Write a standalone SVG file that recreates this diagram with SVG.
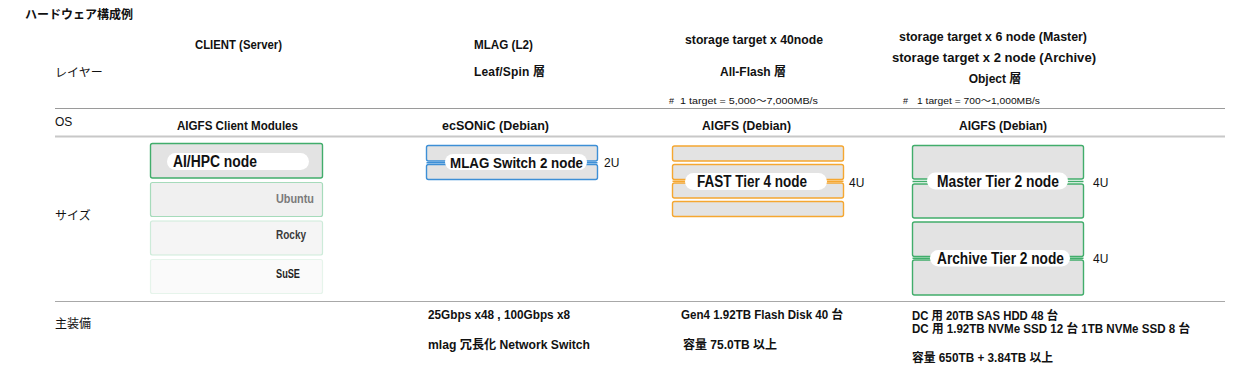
<svg xmlns="http://www.w3.org/2000/svg" width="1250" height="370" viewBox="0 0 1250 370">
<style>
text{font-family:"Liberation Sans","Noto Sans CJK JP",sans-serif;fill:#111}
.jp{font-family:"Noto Sans CJK JP",sans-serif}
.h{font-size:12px;font-weight:bold}
.lab{font-size:12px;font-family:"Noto Sans CJK JP",sans-serif}
.sm{font-size:9px}
.nl{font-size:16px;font-weight:bold}
.os{font-size:12px;font-weight:bold}
.u{font-size:12px}
.box{fill:#e3e3e3;stroke-width:1.4}
.g{stroke:#41ad6b}
.b{stroke:#3d8fd6}
.o{stroke:#f5a731}
.pill{fill:#fff}
.lnk{stroke-width:1.4}
</style>
<text class="jp" x="25" y="18.5" font-size="12" font-weight="bold" textLength="108" lengthAdjust="spacingAndGlyphs">ハードウェア構成例</text>
<g id="row-labels">
<text class="lab" x="55" y="76.5">レイヤー</text>
<text class="u" x="55" y="125.5">OS</text>
<text class="lab" x="55" y="219.5">サイズ</text>
<text class="lab" x="55" y="327.5">主装備</text>
</g>
<g id="rules">
<line x1="55" y1="108.5" x2="1225" y2="108.5" stroke="#9a9a9a" stroke-width="1"/>
<line x1="55" y1="136.5" x2="1225" y2="136.5" stroke="#c8c8c8" stroke-width="2"/>
<line x1="55" y1="301.5" x2="1225" y2="301.5" stroke="#a8a8a8" stroke-width="1"/>
</g>
<g id="col-client">
<text class="h" x="195" y="49" textLength="87" lengthAdjust="spacingAndGlyphs">CLIENT (Server)</text>
<text class="h" x="177" y="130" textLength="121" lengthAdjust="spacingAndGlyphs">AIGFS Client Modules</text>
</g>
<g id="node-aihpc">
<rect class="box g" x="150.5" y="143.5" width="172" height="34.5" rx="2" stroke-width="1.5"/>
<rect class="pill" x="167" y="153" width="142" height="17" rx="8.5"/>
<text class="nl" x="173" y="167" textLength="84" lengthAdjust="spacingAndGlyphs">AI/HPC node</text>
</g>
<g id="node-ubuntu">
<rect x="150.5" y="182.5" width="172" height="34" rx="2" fill="#f0f0f0" stroke="#a6dbbb" stroke-width="1.2"/>
<text class="os" x="276" y="202.5" style="fill:#7a7a7a" textLength="38" lengthAdjust="spacingAndGlyphs">Ubuntu</text>
</g>
<g id="node-rocky">
<rect x="150.5" y="221" width="172" height="34" rx="2" fill="#f5f5f5" stroke="#cdebd9" stroke-width="1.2"/>
<text class="os" x="276" y="239" style="fill:#3a3a3a" textLength="30" lengthAdjust="spacingAndGlyphs">Rocky</text>
</g>
<g id="node-suse">
<rect x="150.5" y="259.5" width="172" height="34" rx="2" fill="#fafafa" stroke="#e6f4eb" stroke-width="1.2"/>
<text class="os" x="276" y="277.5" style="fill:#222" textLength="24" lengthAdjust="spacingAndGlyphs">SuSE</text>
</g>
<g id="col-mlag">
<text class="h" x="474" y="49" textLength="59" lengthAdjust="spacingAndGlyphs">MLAG (L2)</text>
<text class="h" x="474" y="76" textLength="71" lengthAdjust="spacing">Leaf/Spin 層</text>
<text class="h" x="442" y="129.5" textLength="107" lengthAdjust="spacingAndGlyphs">ecSONiC (Debian)</text>
<text class="h" x="428" y="319" textLength="142" lengthAdjust="spacingAndGlyphs">25Gbps x48 , 100Gbps x8</text>
<text class="h" x="428" y="349" textLength="162" lengthAdjust="spacingAndGlyphs">mlag 冗長化 Network Switch</text>
</g>
<g id="node-mlag-switch">
<rect class="box b" x="426.5" y="145.5" width="171" height="15.5" rx="2"/>
<rect class="box b" x="426.5" y="164.5" width="171" height="15" rx="2"/>
<line class="lnk b" x1="426.5" y1="162.7" x2="597.5" y2="162.7"/>
<rect class="pill" x="445" y="154" width="142" height="16" rx="8"/>
<text x="450" y="167.5" font-size="14.5" font-weight="bold" textLength="133" lengthAdjust="spacingAndGlyphs">MLAG Switch 2 node</text>
<text class="u" x="604" y="167">2U</text>
</g>
<g id="col-flash">
<text class="h" x="685" y="44" textLength="138" lengthAdjust="spacingAndGlyphs">storage target x 40node</text>
<text class="h" x="753" y="75.5" text-anchor="middle">All-Flash 層</text>
<text class="sm" x="669" y="103.5">#</text>
<text class="sm" x="680" y="103.5" textLength="138" lengthAdjust="spacingAndGlyphs">1 target = 5,000〜7,000MB/s</text>
<text class="h" x="702" y="129.5" textLength="89" lengthAdjust="spacingAndGlyphs">AIGFS (Debian)</text>
<text class="h" x="681" y="319" textLength="162" lengthAdjust="spacingAndGlyphs">Gen4 1.92TB Flash Disk 40 台</text>
<text class="h" x="683" y="349" textLength="94" lengthAdjust="spacingAndGlyphs">容量 75.0TB 以上</text>
</g>
<g id="node-fast-tier">
<rect class="box o" x="672.5" y="146" width="171" height="15" rx="2"/>
<rect class="box o" x="672.5" y="164.5" width="171" height="15" rx="2"/>
<rect class="box o" x="672.5" y="183" width="171" height="15" rx="2"/>
<rect class="box o" x="672.5" y="201.5" width="171" height="15" rx="2"/>
<line class="lnk o" x1="672.5" y1="181.3" x2="843.5" y2="181.3"/>
<rect class="pill" x="685" y="173" width="142" height="17" rx="8.5"/>
<text class="nl" x="697" y="187" textLength="110" lengthAdjust="spacingAndGlyphs">FAST Tier 4 node</text>
<text class="u" x="849" y="187">4U</text>
</g>
<g id="col-object">
<text class="h" x="899" y="41" textLength="188" lengthAdjust="spacingAndGlyphs">storage target x 6 node (Master)</text>
<text class="h" x="892" y="62" textLength="204" lengthAdjust="spacingAndGlyphs">storage target x 2 node (Archive)</text>
<text class="h" x="995" y="83" text-anchor="middle">Object 層</text>
<text class="sm" x="903" y="104">#</text>
<text class="sm" x="917" y="104" textLength="123" lengthAdjust="spacingAndGlyphs">1 target = 700〜1,000MB/s</text>
<text class="h" x="959" y="129.5" textLength="88" lengthAdjust="spacingAndGlyphs">AIGFS (Debian)</text>
<text class="h" x="912" y="319.5" textLength="146" lengthAdjust="spacingAndGlyphs">DC 用 20TB SAS HDD 48 台</text>
<text class="h" x="912" y="333" textLength="278" lengthAdjust="spacingAndGlyphs">DC 用 1.92TB NVMe SSD 12 台 1TB NVMe SSD 8 台</text>
<text class="h" x="912" y="361.5" textLength="141" lengthAdjust="spacingAndGlyphs">容量 650TB + 3.84TB 以上</text>
</g>
<g id="node-master-tier">
<rect class="box g" x="912.5" y="145.5" width="171" height="33.5" rx="2"/>
<rect class="box g" x="912.5" y="184" width="171" height="34" rx="2"/>
<line class="lnk g" x1="912.5" y1="181.5" x2="1083.5" y2="181.5"/>
<rect class="pill" x="927" y="172.5" width="141" height="17" rx="8.5"/>
<text class="nl" x="937" y="187" textLength="122" lengthAdjust="spacingAndGlyphs">Master Tier 2 node</text>
<text class="u" x="1093" y="187">4U</text>
</g>
<g id="node-archive-tier">
<rect class="box g" x="912.5" y="222" width="171" height="34.5" rx="2"/>
<rect class="box g" x="912.5" y="260" width="171" height="35" rx="2"/>
<line class="lnk g" x1="912.5" y1="258.3" x2="1083.5" y2="258.3"/>
<rect class="pill" x="930" y="250" width="140" height="16.5" rx="8.25"/>
<text class="nl" x="937" y="263.5" textLength="127" lengthAdjust="spacingAndGlyphs">Archive Tier 2 node</text>
<text class="u" x="1093" y="263">4U</text>
</g>
</svg>
